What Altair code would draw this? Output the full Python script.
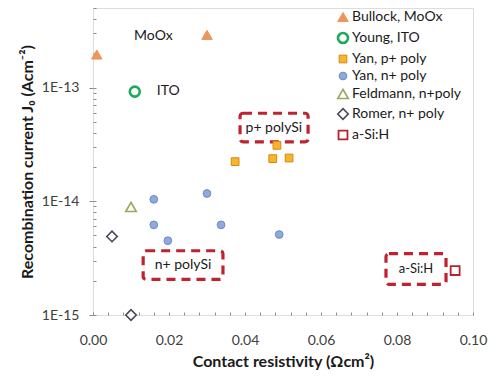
import altair as alt
import pandas as pd

# ---- data ----
series_names = ["Bullock, MoOx", "Young, ITO", "Yan, p+ poly", "Yan, n+ poly",
                "Feldmann, n+poly", "Romer, n+ poly", "a-Si:H"]
stroke_colors = ["#EC955C", "#1FA85A", "#D28B12", "#6C8CC4", "#98A65E", "#474856", "#B8222D"]
fill_colors = ["#EC955C", "white", "#F7B52C", "#8EA9DB", "white", "white", "white"]
shapes = ["triangle-up", "circle", "square", "circle", "triangle-up", "diamond", "square"]
sizes = [110, 100, 60, 60, 110, 110, 80]
stroke_widths = [1, 2.6, 1, 1, 1.6, 1.6, 1.8]

bullock_x = [0.001, 0.030]
bullock_y = [1.95e-13, 2.9e-13]
young_x = [0.011]
young_y = [0.92e-13]
yanp_x = [0.0374, 0.0484, 0.0473, 0.0516]
yanp_y = [2.23e-14, 3.1e-14, 2.37e-14, 2.4e-14]
yann_x = [0.016, 0.030, 0.016, 0.0337, 0.0197, 0.049]
yann_y = [1.04e-14, 1.17e-14, 6.2e-15, 6.2e-15, 4.5e-15, 5.1e-15]
feld_x = [0.010]
feld_y = [8.9e-15]
romer_x = [0.005, 0.010]
romer_y = [4.9e-15, 1.0e-15]
asi_x = [0.0953]
asi_y = [2.46e-15]

# annotation texts
note_text = ["MoOx", "ITO"]
note_x = [0.0108, 0.0168]
note_y = [2.83e-13, 0.94e-13]

# dashed boxes with labels
box_text = ["p+ polySi", "n+ polySi", "a-Si:H"]
box_x1 = [0.0387, 0.0132, 0.0771]
box_x2 = [0.0566, 0.0342, 0.0929]
box_y1 = [3.33e-14, 2.06e-15, 1.86e-15]
box_y2 = [5.94e-14, 3.67e-15, 3.46e-15]
box_tx = [0.0476, 0.0237, 0.0850]
box_ty = [4.44e-14, 2.75e-15, 2.54e-15]
box_fs = [14, 14, 13]

x_major = [0.0, 0.02, 0.04, 0.06, 0.08, 0.10]
x_minor = [round(i * 0.004, 3) for i in range(26)]
y_major = [1e-15, 1e-14, 1e-13]
y_minor = [m * d for d in [1e-15, 1e-14] for m in range(1, 10)] + [1e-13, 2e-13, 3e-13, 4e-13, 5e-13]

# ---- tables ----
rows = []
for name, xs, ys in [(series_names[0], bullock_x, bullock_y),
                     (series_names[1], young_x, young_y),
                     (series_names[2], yanp_x, yanp_y),
                     (series_names[3], yann_x, yann_y),
                     (series_names[4], feld_x, feld_y),
                     (series_names[5], romer_x, romer_y),
                     (series_names[6], asi_x, asi_y)]:
    for xv, yv in zip(xs, ys):
        rows.append({"series": name, "x": xv, "y": yv})
pts = pd.DataFrame(rows)
notes = pd.DataFrame({"t": note_text, "x": note_x, "y": note_y})
boxes = pd.DataFrame({"t": box_text, "x1": box_x1, "x2": box_x2, "y1": box_y1, "y2": box_y2,
                      "tx": box_tx, "ty": box_ty, "fs": box_fs})

FONT = "Lato"
xs_ = alt.Scale(domain=[0, 0.10], nice=False, zero=False)
ys_ = alt.Scale(type="log", domain=[1e-15, 5e-13], nice=False)

leg = alt.Legend(title=None, orient="none", legendX=243, legendY=2, padding=0,
                 labelFont=FONT, labelFontSize=14, labelColor="#1a1a1a", labelOffset=2,
                 rowPadding=3, symbolSize=50, symbolStrokeWidth=1.5, labelLimit=300)

points = alt.Chart(pts).mark_point(filled=False, opacity=1).encode(
    x=alt.X("x:Q", scale=xs_, axis=alt.Axis(
        orient="bottom", values=x_major, format=".2f", ticks=False, domain=False, grid=False,
        labelFlush=False,
        labelFont=FONT, labelFontSize=14, labelColor="#404040", labelPadding=18,
        title="Contact resistivity (Ωcm²)", titleFont=FONT, titleFontSize=16,
        titleFontWeight="bold", titleColor="#1a1a1a", titlePadding=6)),
    y=alt.Y("y:Q", scale=ys_, axis=alt.Axis(
        orient="left", values=y_major, labelExpr="'1E' + round(log(datum.value)/LN10)",
        tickSize=4, tickColor="#8c8c8c", domain=False, grid=False, labelFlush=False,
        labelFont=FONT, labelFontSize=14, labelColor="#404040", labelPadding=10,
        title="Recombination current J₀ (Acm⁻²)", titleFont=FONT, titleFontSize=16,
        titleFontWeight="bold", titleColor="#1a1a1a", titlePadding=6)),
    color=alt.Color("series:N", scale=alt.Scale(domain=series_names, range=stroke_colors), legend=leg),
    fill=alt.Fill("series:N", scale=alt.Scale(domain=series_names, range=fill_colors), legend=leg),
    shape=alt.Shape("series:N", scale=alt.Scale(domain=series_names, range=shapes), legend=leg),
    size=alt.Size("series:N", scale=alt.Scale(type="ordinal", domain=series_names, range=sizes), legend=None),
    strokeWidth=alt.StrokeWidth("series:N", scale=alt.Scale(type="ordinal", domain=series_names, range=stroke_widths), legend=None),
)

rects = alt.Chart(boxes).mark_rect(fillOpacity=0, stroke="#C0232E", strokeWidth=3.2,
                                   strokeDash=[9, 6], cornerRadius=3).encode(
    x=alt.X("x1:Q", scale=xs_, axis=None), x2="x2:Q",
    y=alt.Y("y1:Q", scale=ys_, axis=None), y2="y2:Q")

box_labels = alt.Chart(boxes).mark_text(font=FONT, color="#1a1a1a").encode(
    x=alt.X("tx:Q", scale=xs_, axis=None),
    y=alt.Y("ty:Q", scale=ys_, axis=None),
    text="t:N",
    size=alt.Size("fs:Q", scale=None, legend=None))

note_labels = alt.Chart(notes).mark_text(font=FONT, fontSize=14, color="#1a1a1a", align="left").encode(
    x=alt.X("x:Q", scale=xs_, axis=None),
    y=alt.Y("y:Q", scale=ys_, axis=None),
    text="t:N")

minor = alt.Chart(pts).mark_point(opacity=0).encode(
    x=alt.X("x:Q", scale=xs_, axis=alt.Axis(
        orient="bottom", values=x_minor, labels=False, domain=False, grid=False, title=None,
        tickSize=3, offset=-3, tickColor="#8c8c8c")),
    y=alt.Y("y:Q", scale=ys_, axis=alt.Axis(
        orient="left", values=y_minor, labels=False, domain=False, grid=False, title=None,
        tickSize=3, offset=-3, tickColor="#8c8c8c")),
)

chart = alt.layer(rects, points, box_labels, note_labels, minor).resolve_scale(
    x="independent", y="independent"
).properties(
    width=380, height=307,
    autosize=alt.AutoSizeParams(type="none"),
    padding={"left": 85, "top": 0, "right": 15, "bottom": 56},
).configure_view(stroke="#8c8c8c", strokeWidth=1).configure(background="white")

chart.save("out.html", embed_options={"renderer": "svg", "actions": False})
